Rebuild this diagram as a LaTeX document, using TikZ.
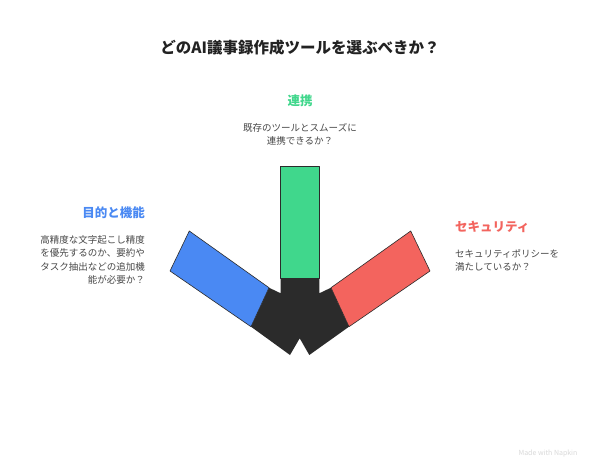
\documentclass[tikz,border=0pt]{standalone}
\usepackage{fontspec}
\setmainfont{Noto Sans CJK JP}
\usepackage{tikz}
\usetikzlibrary{positioning}
\definecolor{goalblue}{RGB}{74,137,243}
\definecolor{linkgreen}{RGB}{64,215,140}
\definecolor{secred}{RGB}{243,100,94}
\definecolor{hubblack}{RGB}{43,43,43}
\definecolor{bodygray}{RGB}{72,72,72}
\definecolor{titleblack}{RGB}{34,34,34}

\begin{document}
\begin{tikzpicture}[x=1pt,y=-1pt,node distance=16pt]
  \tikzstyle{head}=[inner sep=0pt,font=\fontsize{12.5}{15}\selectfont\bfseries]
  \tikzstyle{body}=[inner sep=0pt,text=bodygray,font=\fontsize{9.5}{13.5}\selectfont]
  \tikzstyle{bar}=[draw=hubblack,line width=0.6pt,line join=round]

  \useasboundingbox[fill=white] (0,0) rectangle (600,475);

  % dark hub where the three bars meet
  \fill[hubblack] (280.7,278.3) -- (280.7,293.3) -- (269,287.7) -- (251,326.7)
    -- (290,355) -- (299.7,338.3) -- (309.3,355) -- (349,326.7) -- (331,287.7)
    -- (319.3,293.3) -- (319.3,278.3) -- cycle;

  % coloured ends
  \draw[bar,fill=goalblue]  (189.3,231) -- (269,287.7) -- (251,326.7) -- (170,271) -- cycle;
  \draw[bar,fill=linkgreen] (280.7,166.7) rectangle (319.3,278.3);
  \draw[bar,fill=secred]    (410.7,231) -- (331,287.7) -- (349,326.7) -- (430,271) -- cycle;

  \node[font=\fontsize{15.5}{18}\selectfont\bfseries,text=titleblack] (title) at (300,48)
    {どのAI議事録作成ツールを選ぶべきか？};

  \node[head,text=linkgreen] (link_head) at (300,101) {連携};
  \node[body,align=center,below=of link_head] (link_text)
    {既存のツールとスムーズに\\連携できるか？};

  \node[head,text=goalblue,anchor=east] (goal_head) at (145,213) {目的と機能};
  \node[body,align=right,below=of goal_head.south east,anchor=north east] (goal_text)
    {高精度な文字起こし精度\\を優先するのか、要約や\\タスク抽出などの追加機\\能が必要か？};

  \node[head,text=secred,anchor=west] (sec_head) at (455,227) {セキュリティ};
  \node[body,align=left,below=of sec_head.south west,anchor=north west] (sec_text)
    {セキュリティポリシーを\\満たしているか？};

  \node[text=black!15,font=\fontsize{7}{8}\selectfont] (napkin) at (548,454) {Made with Napkin};
\end{tikzpicture}
\end{document}
